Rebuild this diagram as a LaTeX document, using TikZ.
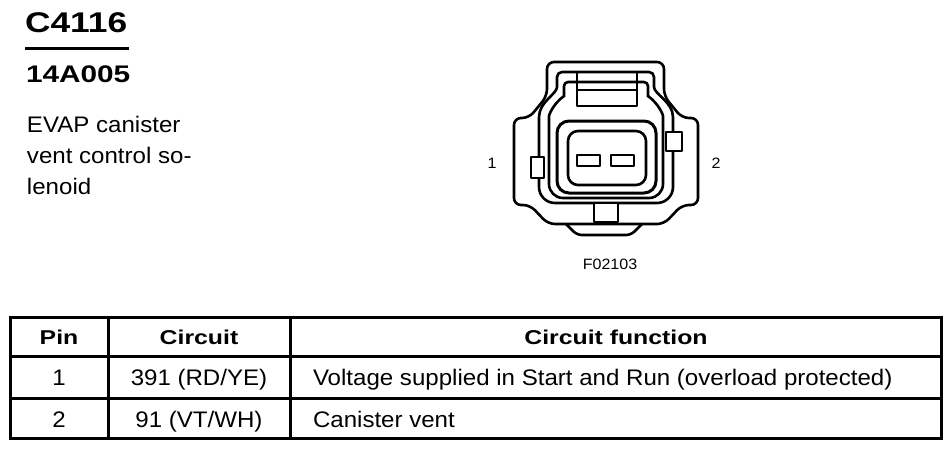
\documentclass[tikz,border=0pt]{standalone}
\usepackage{fontspec}
\setmainfont{Liberation Sans}[FakeStretch=1.07]
\newfontfamily\headfont{Liberation Sans}[FakeStretch=1.24]
\usetikzlibrary{calc}

\begin{document}
\begin{tikzpicture}
[x=1pt, y=-1pt,
    every node/.style={inner sep=0pt, outer sep=0pt},
    conn/.style={line width=2.6pt, line join=round},
    rule/.style={line width=3pt},
    title/.style={anchor=base west, font=\headfont\bfseries\fontsize{28.5}{30}\selectfont},
    sub/.style={anchor=base west, font=\headfont\bfseries\fontsize{24}{28}\selectfont},
    body/.style={font=\fontsize{22.5}{31}\selectfont},
    small/.style={font=\fontsize{15}{17}\selectfont},
    hd/.style={anchor=base, font=\headfont\bfseries\fontsize{20}{24}\selectfont},
    cell/.style={anchor=base, body},
    fcell/.style={anchor=base west, body}]
    \useasboundingbox (0,0) rectangle (951,450);
    % heading
    \node[title] (conn) at (25,32) {C4116};
    \draw[line width=3pt] (25,48) -- (129,48);
    \node[sub] (part) at (26,82) {14A005};
    \node[body, anchor=north west, align=left] (desc) at (27,116)
        {EVAP canister\\vent control so-\\lenoid};
    % connector face
    \draw[conn, rounded corners=7] (514,205) -- (514,118) -- (529,118) -- (547,96)
        -- (547,62) -- (664,62) -- (664,96) -- (682,118) -- (698,118) -- (698,205)
        -- (682,205) -- (664,224) -- (548,224) -- (530,205) -- cycle;
    \draw[conn, rounded corners=5] (566,224) -- (577,235) -- (631,235) -- (642,224);
    \draw[conn, rounded corners=5] (539,160) -- (539,122) .. controls (539,102) and (557,94) .. (557,82)
        -- (557,72) -- (654,72) -- (654,82) .. controls (654,94) and (673,102) .. (673,122)
        [rounded corners=16] -- (673,203) -- (539,203) -- (539,150);
    \draw[conn, rounded corners=14] (564,96) .. controls (553,104) and (549,115) .. (549,130)
        -- (549,198) -- (663,198) -- (663,130) .. controls (663,115) and (659,104) .. (648,96);
    \draw[conn, rounded corners=4] (564,97) -- (564,82) -- (648,82) -- (648,97);
    \draw[conn] (577,72) -- (577,106) -- (637,106) -- (637,72);
    \draw[conn] (577,90) -- (637,90);
    \draw[conn, fill=white] (531,157) rectangle (544,178);
    \draw[conn, fill=white] (666,132) rectangle (682,151);
    \draw[conn, fill=white] (594,203) rectangle (618,222);
    \draw[conn, line width=3pt, rounded corners=12] (557,121) rectangle (656,193);
    \draw[conn, rounded corners=10] (568,131) rectangle (646,185);
    \foreach \x in {577,611}
        \draw[conn] (\x,155) rectangle ++(23,11);
    \node[small] (pin1) at (492,163) {1};
    \node[small] (pin2) at (716,163) {2};
    \node[small] (fig) at (610,264) {F02103};
    % pin table
    \draw[rule] (10,317) rectangle (941,438);
    \foreach \y in {356,398}
        \draw[rule] (10,\y) -- (941,\y);
    \foreach \x in {108,290}
        \draw[rule] (\x,317) -- (\x,438);
    \node[hd] (hpin) at (59,344) {Pin};
    \node[hd] (hcirc) at (199,344) {Circuit};
    \node[hd] (hfunc) at (616,344) {Circuit function};
    \node[cell] (pinA) at (59,385) {1};
    \node[cell] (circA) at (199,385) {391 (RD/YE)};
    \node[fcell] (funcA) at (313,385) {Voltage supplied in Start and Run (overload protected)};
    \node[cell] (pinB) at (59,427) {2};
    \node[cell] (circB) at (199,427) {91 (VT/WH)};
    \node[fcell] (funcB) at (313,427) {Canister vent};
\end{tikzpicture}
\end{document}
